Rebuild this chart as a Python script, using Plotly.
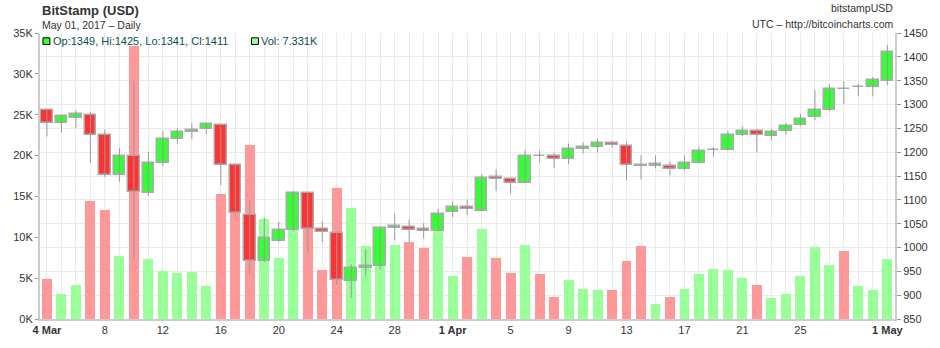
import pandas as pd
import plotly.graph_objects as go

# ---------------- data ----------------
start_date = "2017-03-04"
end_date = "2017-05-01"
dates = pd.date_range(start_date, end_date, freq="D")

open_ = [1289, 1261, 1272, 1279, 1236, 1153, 1191, 1114, 1177, 1227,
         1243, 1248, 1258, 1173, 1069, 971, 1013, 1036, 1115, 1039,
         1031, 929, 957, 961, 1041, 1043, 1039, 1035, 1074, 1085,
         1077, 1147, 1143, 1136, 1191.5, 1191, 1185, 1207, 1211, 1219,
         1213, 1172.5, 1171, 1171, 1164, 1177, 1204, 1205, 1236, 1245,
         1234, 1244, 1256, 1274, 1289, 1333, 1336, 1337, 1349]
high = [1291, 1277, 1288, 1284, 1248, 1209, 1351, 1201, 1244, 1251,
        1261, 1261, 1259, 1176, 1099, 1063, 1054, 1119, 1116, 1056,
        1034, 965, 997, 1044, 1071, 1059, 1051, 1081, 1097, 1101,
        1154, 1164, 1146, 1204, 1204, 1199, 1218, 1221, 1229, 1223,
        1221, 1194, 1193, 1181, 1193, 1211, 1211, 1245, 1254, 1249,
        1249, 1261, 1281, 1331, 1343, 1349, 1343, 1358, 1425]
low = [1233, 1241, 1251, 1177, 1148, 1138, 976, 1108, 1171, 1217,
       1227, 1238, 1131, 1063, 945, 970, 1011, 1034, 989, 1011,
       921, 894, 939, 954, 1015, 1011, 1019, 1034, 1063, 1068,
       1076, 1119, 1113, 1135, 1178, 1167, 1175, 1197, 1199, 1209,
       1141, 1143, 1166, 1151, 1161, 1177, 1191, 1203, 1234, 1199,
       1225, 1236, 1255, 1267, 1286, 1301, 1317, 1317, 1341]
close = [1261, 1276, 1280, 1236, 1153, 1191, 1117, 1177, 1227, 1243,
         1247, 1259, 1174, 1073, 971, 1019, 1037, 1115, 1039, 1032,
         931, 957, 962, 1041, 1046, 1037, 1035, 1071, 1086, 1080,
         1145, 1143, 1136, 1191, 1191, 1185, 1207, 1211, 1219, 1214,
         1174, 1172, 1175, 1164, 1177, 1203, 1204.5, 1236, 1245, 1236,
         1243, 1255, 1269, 1289, 1333, 1332.5, 1336.5, 1351, 1411]
volume_k = [4.92, 3.06, 4.22, 14.42, 13.37, 7.71, 33.4, 7.36, 5.85, 5.58,
            5.70, 3.99, 15.27, 16.5, 21.3, 12.28, 7.51, 13.0, 13.5, 5.97,
            16.08, 13.53, 8.99, 9.0, 9.1, 9.37, 8.68, 11.5, 5.23, 7.56,
            11.05, 7.44, 5.58, 9.1, 5.47, 2.71, 4.8, 3.64, 3.52, 3.52,
            7.13, 8.96, 1.78, 2.71, 3.64, 5.5, 6.08, 5.97, 5.04, 4.22,
            2.59, 3.06, 5.27, 8.76, 6.66, 8.29, 3.99, 3.52, 7.331]

x_tick_dates = ["2017-03-04", "2017-03-08", "2017-03-12", "2017-03-16", "2017-03-20",
                "2017-03-24", "2017-03-28", "2017-04-01", "2017-04-05", "2017-04-09",
                "2017-04-13", "2017-04-17", "2017-04-21", "2017-04-25", "2017-05-01"]
x_tick_text = ["<b>4 Mar</b>", "8", "12", "16", "20", "24", "28", "<b>1 Apr</b>",
               "5", "9", "13", "17", "21", "25", "<b>1 May</b>"]
vol_tick_vals = [0, 5000, 10000, 15000, 20000, 25000, 30000, 35000]
vol_tick_text = ["0K", "5K", "10K", "15K", "20K", "25K", "30K", "35K"]

title = "BitStamp (USD)"
subtitle = "May 01, 2017 \u2013 Daily"
right_top = "bitstampUSD"
right_sub = "UTC \u2013 http://bitcoincharts.com"

# ---------------- styles ----------------
FONT = "Liberation Sans, Arial, sans-serif"
UP_FILL, DOWN_FILL = "#33ff33", "#ff3333"
UP_VOL, DOWN_VOL = "#99ff99", "#ff9999"
GRID = "#ebebeb"
AXIS = "#cccccc"
DAY_MS = 86400000

is_up = [c >= o for o, c in zip(open_, close)]
vol_colors = [UP_VOL if u else DOWN_VOL for u in is_up]
body_colors = [UP_FILL if u else DOWN_FILL for u in is_up]

fig = go.Figure()
# volume bars (left axis)
fig.add_trace(go.Bar(
    x=dates, y=[v * 1000 for v in volume_k], yaxis="y",
    marker=dict(color=vol_colors, line=dict(width=0)),
    width=0.685 * DAY_MS, hoverinfo="skip",
))
# wicks (right axis)
wx, wy = [], []
for d, h, l in zip(dates, high, low):
    wx += [d, d, None]
    wy += [l, h, None]
fig.add_trace(go.Scatter(
    x=wx, y=wy, yaxis="y2", mode="lines",
    line=dict(color="#999999", width=1), hoverinfo="skip",
))
# candle bodies (right axis)
fig.add_trace(go.Bar(
    x=dates, base=[min(o, c) for o, c in zip(open_, close)],
    y=[abs(c - o) for o, c in zip(open_, close)], yaxis="y2",
    marker=dict(color=body_colors, line=dict(color="#aaaaaa", width=1.5)),
    width=0.80 * DAY_MS, hoverinfo="skip",
))

L, R, T, B = 40, 39, 33, 16
W, H = 940, 348
PW, PH = W - L - R, H - T - B


def px(xp):
    return (xp - L) / PW


def py(yp):
    return (H - B - yp) / PH


annotations = [
    dict(text="<b>" + title + "</b>", x=px(40), y=py(9), xanchor="left", yanchor="middle",
         font=dict(size=13, color="#333333")),
    dict(text=subtitle, x=px(40), y=py(25), xanchor="left", yanchor="middle",
         font=dict(size=10.5, color="#333333")),
    dict(text=right_top, x=px(901), y=py(7), xanchor="right", yanchor="middle",
         font=dict(size=10.5, color="#333333")),
    dict(text=right_sub, x=px(901), y=py(24), xanchor="right", yanchor="middle",
         font=dict(size=10.5, color="#333333")),
    dict(text="Op:%g, Hi:%g, Lo:%g, Cl:%g" % (open_[-1], high[-1], low[-1], close[-1]),
         x=px(51), y=py(41.5), xanchor="left", yanchor="middle",
         font=dict(size=11, color="#0b4f4f")),
    dict(text="Vol: %.3fK" % volume_k[-1], x=px(261), y=py(41.5), xanchor="left", yanchor="middle",
         font=dict(size=11, color="#0b4f4f")),
]
for a in annotations:
    a.update(xref="paper", yref="paper", showarrow=False)

shapes = [
    dict(type="rect", xref="paper", yref="paper", x0=px(43), x1=px(50), y0=py(45), y1=py(38),
         fillcolor=UP_FILL, line=dict(color="#000000", width=1)),
    dict(type="rect", xref="paper", yref="paper", x0=px(253), x1=px(260), y0=py(45), y1=py(38),
         fillcolor=UP_VOL, line=dict(color="#000000", width=1)),
]

x0 = pd.Timestamp(start_date) - pd.Timedelta(days=0.48)
x1 = pd.Timestamp(end_date) + pd.Timedelta(days=0.53)

fig.update_layout(
    width=W, height=H,
    margin=dict(l=L, r=R, t=T, b=B, pad=0),
    paper_bgcolor="white", plot_bgcolor="white",
    showlegend=False, bargap=0, barmode="overlay",
    font=dict(family=FONT, size=11, color="#333333"),
    annotations=annotations, shapes=shapes,
    xaxis=dict(
        type="date", range=[x0, x1],
        tickmode="array", tickvals=x_tick_dates, ticktext=x_tick_text,
        showgrid=True, gridcolor=GRID, gridwidth=1,
        minor=dict(dtick=DAY_MS, tick0=start_date, showgrid=True, gridcolor=GRID, gridwidth=1),
        showline=True, linecolor=AXIS, linewidth=2,
        ticks="", tickfont=dict(size=11, color="#333333"), zeroline=False,
    ),
    yaxis=dict(
        range=[0, 35000], tickmode="array", tickvals=vol_tick_vals, ticktext=vol_tick_text,
        showgrid=False, showline=True, linecolor=AXIS, linewidth=2,
        ticks="outside", ticklen=3, tickcolor="#999999",
        tickfont=dict(size=11, color="#333333"), zeroline=False, side="left",
    ),
    yaxis2=dict(
        range=[850, 1450], dtick=50, tick0=850, overlaying="y", side="right",
        showgrid=True, gridcolor=GRID, gridwidth=1,
        showline=True, linecolor=AXIS, linewidth=2,
        ticks="outside", ticklen=4, tickcolor="#999999",
        tickfont=dict(size=11, color="#333333"), zeroline=False,
    ),
)

fig.write_html("out.html")
